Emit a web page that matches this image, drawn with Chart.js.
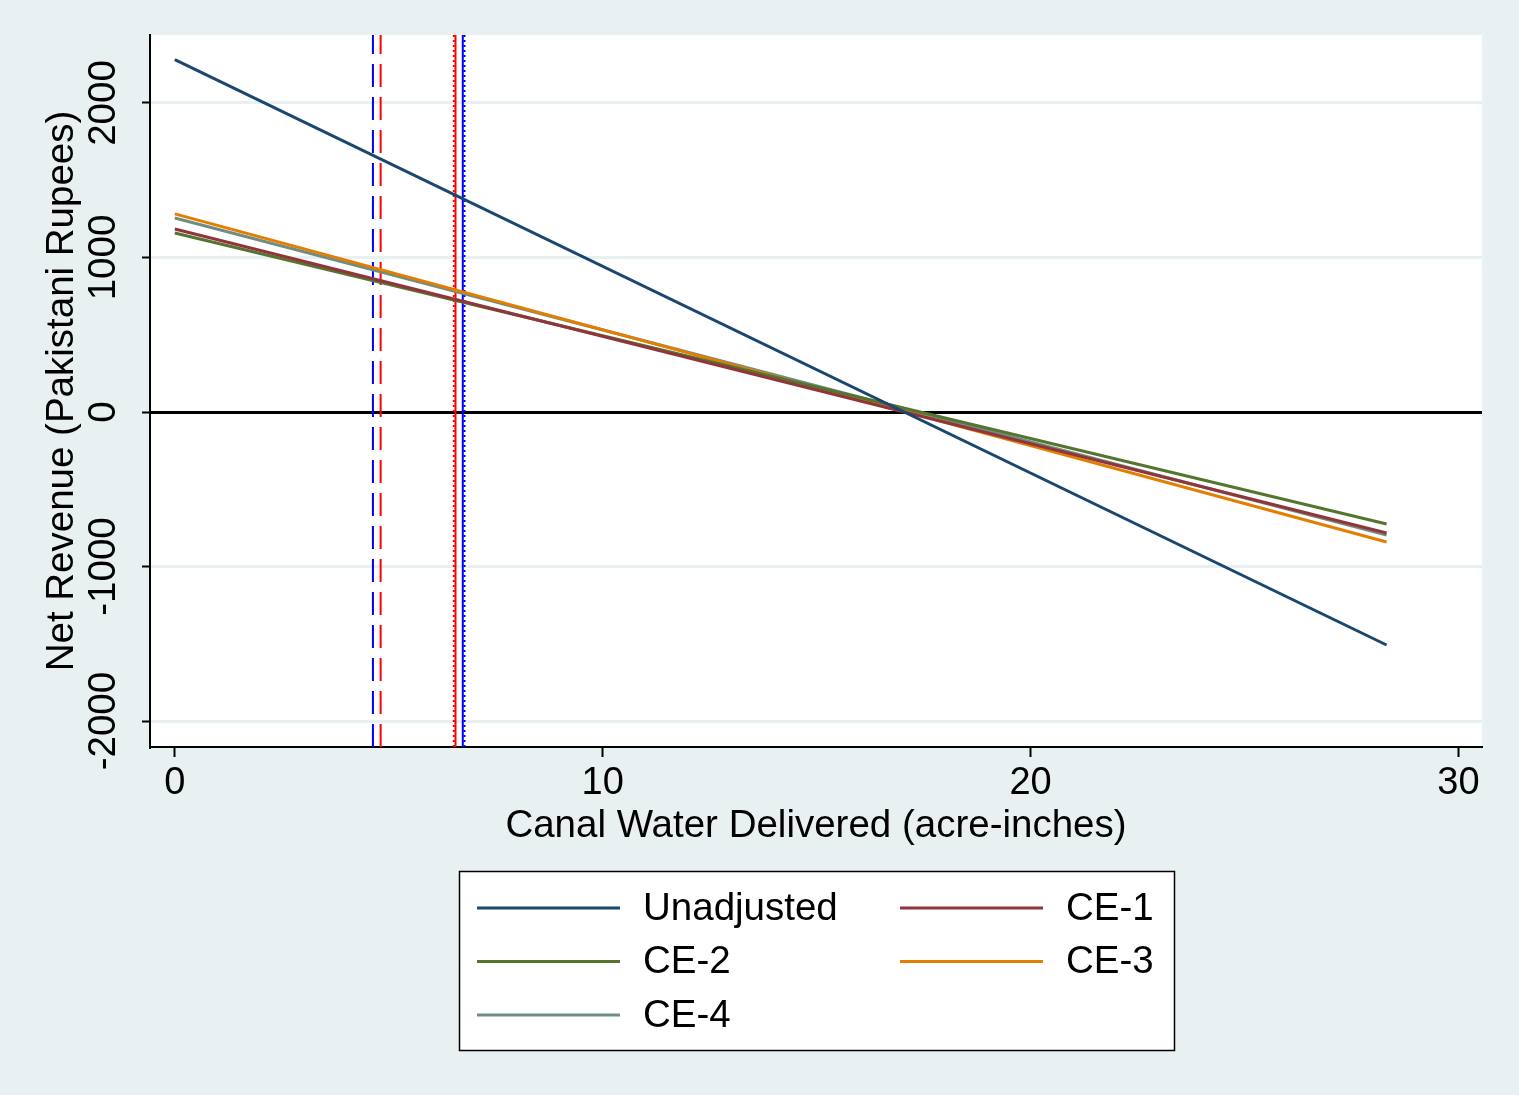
<!DOCTYPE html>
<html>
<head>
<meta charset="utf-8">
<script src="https://cdn.jsdelivr.net/npm/chart.js@4.4.0/dist/chart.umd.min.js"></script>
<style>
  body { margin: 0; background: #e8f0f2; }
  canvas { display: block; }
</style>
</head>
<body>
<canvas id="chart" width="1519" height="1095"></canvas>
<script>
// fitted lines: net revenue at zero water and at the max water delivered
var seriesNames = ['Unadjusted', 'CE-1', 'CE-2', 'CE-3', 'CE-4'];
var seriesColors = ['#1a476f', '#90353b', '#55752f', '#e37e00', '#6e8e84'];
var waterStart = 0;
var waterEnd = 28.32;
var revenueAtStart = [2280, 1184, 1159, 1282, 1256];
var revenueAtEnd = [-1508, -783, -725, -841, -796];

// vertical reference lines (x positions)
var markerX = [4.63, 4.81, 6.52, 6.56, 6.73, 6.77];
var markerColors = ['#0000ff', '#ff0000', '#ff0000', '#ff0000', '#0000ff', '#0000ff'];
var markerStyles = ['dash', 'dash', 'dot', 'solid', 'solid', 'dot'];

var xTicks = [0, 10, 20, 30];
var yTicks = [-2000, -1000, 0, 1000, 2000];
var xRange = [-0.58, 30.55];
var yRange = [-2168, 2440];

var xTitle = 'Canal Water Delivered (acre-inches)';
var yTitle = 'Net Revenue (Pakistani Rupees)';

var FONT = '38.5px "Liberation Sans", Arial, sans-serif';
var BG = '#e8f0f2';

var dashFor = { dash: [23, 10], dot: [2, 3], solid: [] };

var datasets = [];
for (var i = 0; i < seriesNames.length; i++) {
  datasets.push({
    label: seriesNames[i],
    data: [{x: waterStart, y: revenueAtStart[i]}, {x: waterEnd, y: revenueAtEnd[i]}],
    borderColor: seriesColors[i],
    borderWidth: 3,
    pointRadius: 0,
    showLine: true,
    inLegend: true
  });
}
for (var j = 0; j < markerX.length; j++) {
  datasets.push({
    label: 'marker' + j,
    data: [{x: markerX[j], y: yRange[0]}, {x: markerX[j], y: yRange[1]}],
    borderColor: markerColors[j],
    borderWidth: 2,
    borderDash: dashFor[markerStyles[j]],
    pointRadius: 0,
    showLine: true,
    inLegend: false
  });
}

const stataLook = {
  id: 'stataLook',
  beforeDraw(chart) {
    const ctx = chart.ctx, a = chart.chartArea;
    ctx.save();
    ctx.fillStyle = BG;
    ctx.fillRect(0, 0, chart.width, chart.height);
    ctx.fillStyle = '#ffffff';
    ctx.fillRect(a.left, a.top, a.right - a.left, a.bottom - a.top);
    ctx.restore();
  },
  afterDraw(chart) {
    const ctx = chart.ctx, a = chart.chartArea;
    const ys = chart.scales.y;
    ctx.save();
    ctx.fillStyle = '#000';
    ctx.font = FONT;
    ctx.textAlign = 'center';
    ctx.textBaseline = 'middle';

    // rotated y tick labels
    yTicks.forEach(function (v) {
      ctx.save();
      ctx.translate(104, ys.getPixelForValue(v));
      ctx.rotate(-Math.PI / 2);
      ctx.fillText(String(v), 0, 0);
      ctx.restore();
    });

    // axis titles
    ctx.save();
    ctx.translate(62, (a.top + a.bottom) / 2);
    ctx.rotate(-Math.PI / 2);
    ctx.fillText(yTitle, 0, 0);
    ctx.restore();
    ctx.fillText(xTitle, (a.left + a.right) / 2, 826);

    // legend box
    ctx.fillStyle = '#ffffff';
    ctx.fillRect(459, 871, 715, 179);
    ctx.strokeStyle = '#000';
    ctx.lineWidth = 1.5;
    ctx.strokeRect(459.5, 871.5, 715, 179);

    ctx.textAlign = 'left';
    let k = 0;
    chart.data.datasets.forEach(function (ds) {
      if (!ds.inLegend) return;
      const row = Math.floor(k / 2), col = k % 2;
      const y = 908 + row * 53.5;
      const x0 = col === 0 ? 477 : 900;
      ctx.strokeStyle = ds.borderColor;
      ctx.lineWidth = 3;
      ctx.beginPath();
      ctx.moveTo(x0, y);
      ctx.lineTo(x0 + 143, y);
      ctx.stroke();
      ctx.fillStyle = '#000';
      ctx.fillText(ds.label, x0 + 166, y + 1);
      k++;
    });
    ctx.restore();
  }
};

new Chart(document.getElementById('chart'), {
  type: 'scatter',
  data: { datasets: datasets },
  options: {
    responsive: false,
    animation: false,
    layout: { padding: { top: 35, right: 37, left: 0, bottom: 0 } },
    plugins: { legend: { display: false }, tooltip: { enabled: false } },
    scales: {
      x: {
        type: 'linear',
        min: xRange[0],
        max: xRange[1],
        afterBuildTicks: function (s) { s.ticks = xTicks.map(function (v) { return {value: v}; }); },
        afterFit: function (s) { s.height = 348; },
        border: { color: '#000', width: 2 },
        grid: { drawOnChartArea: false, tickLength: 10, tickColor: '#000', tickWidth: 2 },
        ticks: {
          color: '#000',
          padding: 4,
          maxRotation: 0,
          font: { family: '"Liberation Sans", Arial, sans-serif', size: 38 }
        }
      },
      y: {
        type: 'linear',
        min: yRange[0],
        max: yRange[1],
        afterBuildTicks: function (s) { s.ticks = yTicks.map(function (v) { return {value: v}; }); },
        afterFit: function (s) { s.width = 150; },
        border: { color: '#000', width: 2 },
        grid: {
          color: function (c) { return c.tick && c.tick.value === 0 ? '#000' : BG; },
          lineWidth: function (c) { return c.tick && c.tick.value === 0 ? 3 : 3; },
          tickLength: 8,
          tickColor: '#000',
          tickWidth: 2
        },
        ticks: { display: false }
      }
    }
  },
  plugins: [stataLook]
});
</script>
</body>
</html>
